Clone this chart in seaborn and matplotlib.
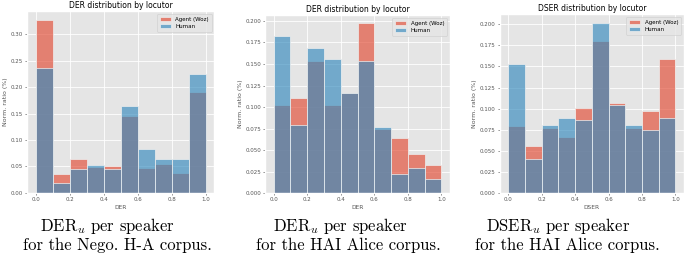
import numpy as np
import matplotlib
matplotlib.use("Agg")
import matplotlib.pyplot as plt
import seaborn as sns

# ---- data ----
bin_edges = [0.0, 0.1, 0.2, 0.3, 0.4, 0.5, 0.6, 0.7, 0.8, 0.9, 1.0]
locutors = ["Agent (Woz)", "Human"]

nego_der_agent = [0.328, 0.035, 0.063, 0.048, 0.050, 0.145, 0.047, 0.054, 0.037, 0.191]
nego_der_human = [0.236, 0.018, 0.045, 0.052, 0.044, 0.164, 0.083, 0.063, 0.063, 0.225]

hai_der_agent = [0.103, 0.111, 0.153, 0.103, 0.116, 0.197, 0.075, 0.064, 0.045, 0.033]
hai_der_human = [0.183, 0.079, 0.168, 0.156, 0.116, 0.154, 0.077, 0.022, 0.029, 0.016]

hai_dser_agent = [0.080, 0.056, 0.077, 0.066, 0.101, 0.180, 0.107, 0.077, 0.097, 0.159]
hai_dser_human = [0.153, 0.041, 0.081, 0.089, 0.087, 0.202, 0.104, 0.081, 0.075, 0.089]

titles = ["DER distribution by locutor", "DER distribution by locutor", "DSER distribution by locutor"]
xlabels = ["DER", "DER", "DSER"]
ylabel = "Norm. ratio (%)"
caption_line1 = [
    r"$\mathrm{DER}_u$ per speaker",
    r"$\mathrm{DER}_u$ per speaker",
    r"$\mathrm{DSER}_u$ per speaker",
]
caption_line2 = [
    "for the Nego. H-A corpus.",
    "for the HAI Alice corpus.",
    "for the HAI Alice corpus.",
]
yticks = [
    [0.00, 0.05, 0.10, 0.15, 0.20, 0.25, 0.30],
    [0.000, 0.025, 0.050, 0.075, 0.100, 0.125, 0.150, 0.175, 0.200],
    [0.000, 0.025, 0.050, 0.075, 0.100, 0.125, 0.150, 0.175, 0.200],
]
ytick_fmt = ["{:.2f}", "{:.3f}", "{:.3f}"]
xticks = [0.0, 0.2, 0.4, 0.6, 0.8, 1.0]

series = [
    (nego_der_agent, nego_der_human),
    (hai_der_agent, hai_der_human),
    (hai_dser_agent, hai_dser_human),
]

# ---- style ----
plt.style.use("ggplot")
plt.rcParams["mathtext.fontset"] = "cm"

colors = ["#E24A33", "#348ABD"]

W, H = 685, 257
fig = plt.figure(figsize=(W / 100, H / 100), dpi=100)
positions = [
    [0.0394, 0.2502, 0.2737, 0.707],
    [0.3873, 0.2479, 0.2692, 0.6938],
    [0.7299, 0.2479, 0.2682, 0.6977],
]

edges = np.array(bin_edges)
centers = (edges[:-1] + edges[1:]) / 2

for i, pos in enumerate(positions):
    ax = fig.add_axes(pos)
    for vals, lab, col in zip(series[i], locutors, colors):
        sns.histplot(x=centers, weights=vals, bins=bin_edges, color=col, alpha=0.65,
                     edgecolor="#EEEEEE", linewidth=0.5, label=lab, ax=ax, stat="count")
    ax.set_xlim(-0.05, 1.05)
    ax.set_xticks(xticks)
    ax.set_xticklabels([f"{t:.1f}" for t in xticks])
    ax.set_yticks(yticks[i])
    ax.set_yticklabels([ytick_fmt[i].format(t) for t in yticks[i]])
    ax.tick_params(labelsize=4, length=1.5, pad=1.5, width=0.5)
    ax.set_title(titles[i], fontsize=5.5, pad=2.5)
    ax.set_xlabel(xlabels[i], fontsize=4.2, labelpad=2)
    ax.set_ylabel(ylabel, fontsize=4.5, labelpad=2)
    ax.grid(True, color="white", linewidth=0.6)
    ax.legend(loc="upper right", fontsize=4, handlelength=2.0, borderpad=0.5,
              labelspacing=0.4)

line1_x = [107, 340, 558]
line2_x = [117, 348, 567]
for i in range(3):
    fig.text(line1_x[i] / W, 1 - 231 / H, caption_line1[i], ha="center", va="baseline",
             fontsize=12, family="cmr10", color="black")
    fig.text(line2_x[i] / W, 1 - 250 / H, caption_line2[i], ha="center", va="baseline",
             fontsize=12, family="cmr10", color="black")

fig.savefig("out.png", dpi=100, facecolor="white")
